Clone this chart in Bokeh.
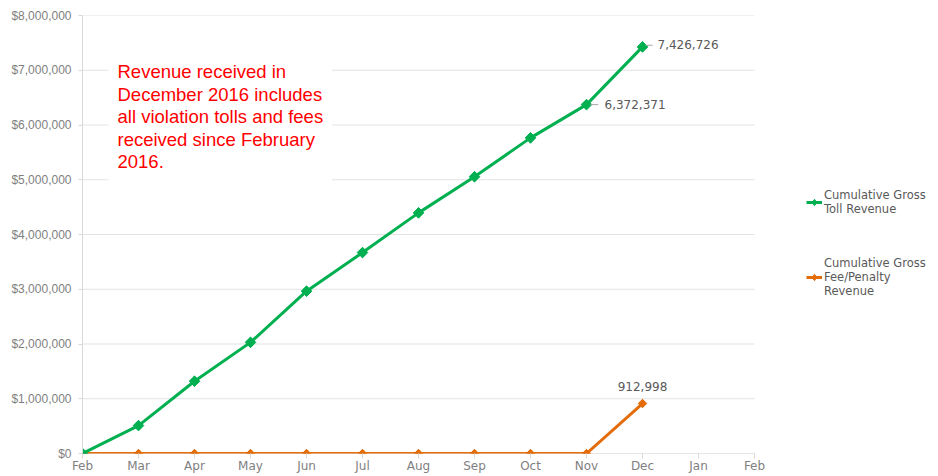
import math
from bokeh.plotting import figure
from bokeh.models import (Range1d, FixedTicker, NumeralTickFormatter, Legend,
                          LegendItem, Label, ColumnDataSource)
from bokeh.core.properties import value
from bokeh.embed import file_html
from bokeh.resources import INLINE

# ---- data ----
months = ["Feb", "Mar", "Apr", "May", "Jun", "Jul", "Aug", "Sep", "Oct",
          "Nov", "Dec", "Jan", "Feb"]
toll_revenue = [0, 510000, 1320000, 2030000, 2965000, 3670000, 4395000,
                5055000, 5765000, 6372371, 7426726]
fee_revenue = [0, 0, 0, 0, 0, 0, 0, 0, 0, 0, 912998]
y_ticks = [0, 1000000, 2000000, 3000000, 4000000, 5000000, 6000000,
           7000000, 8000000]
note = ("Revenue received in\nDecember 2016 includes\nall violation tolls and fees\n"
        "received since February\n2016.")

# ---- layout / style ----
W, H = 938, 476
LEFT, TOP, BOTTOM = 82, 15, 23
AXIS_W = 672                       # width of the month axis in pixels
GREEN = "#00b050"
ORANGE = "#e46c0a"
GRID = "#d9d9d9"
TXT = "#595959"
AX = "#7f7f7f"
FONT = "DejaVu Sans"

n_cat = len(months) - 1
x_end = n_cat * (W - LEFT) / AXIS_W   # frame runs to the right edge (legend lives there)

idx = list(range(len(toll_revenue)))
src_toll = ColumnDataSource(dict(x=idx, y=toll_revenue))
src_fee = ColumnDataSource(dict(x=idx, y=fee_revenue))

p = figure(width=W, height=H, output_backend="svg", toolbar_location=None,
           x_range=Range1d(0, x_end), y_range=Range1d(y_ticks[0], y_ticks[-1]),
           min_border_left=LEFT, min_border_right=0, min_border_top=TOP,
           min_border_bottom=BOTTOM)
p.outline_line_color = None
p.background_fill_color = "white"
p.border_fill_color = "white"

# axes
p.xaxis.ticker = FixedTicker(ticks=list(range(len(months))))
p.xaxis.major_label_overrides = {i: m for i, m in enumerate(months)}
p.xaxis.axis_line_color = None
p.xaxis.major_tick_line_color = GRID
p.xaxis.major_tick_in = 0
p.xaxis.major_tick_out = 5
p.xaxis.minor_tick_line_color = None
p.xaxis.major_label_standoff = 0
p.xaxis.major_label_text_font = FONT
p.xaxis.major_label_text_font_size = "12px"
p.xaxis.major_label_text_color = AX

p.yaxis.ticker = FixedTicker(ticks=y_ticks)
p.yaxis.formatter = NumeralTickFormatter(format="$0,0")
p.yaxis.axis_line_color = GRID
p.yaxis.major_tick_line_color = GRID
p.yaxis.major_tick_in = 0
p.yaxis.major_tick_out = 4
p.yaxis.minor_tick_line_color = None
p.yaxis.major_label_standoff = 7
p.yaxis.major_label_text_font = "Liberation Sans"
p.yaxis.major_label_text_font_size = "12px"
p.yaxis.major_label_text_color = AX

p.grid.grid_line_color = None
# horizontal gridlines and baseline, only across the month axis
p.segment(x0=[0] * len(y_ticks), x1=[n_cat] * len(y_ticks), y0=y_ticks, y1=y_ticks,
          line_color="#e3e3e3", line_width=1)
p.segment(x0=[0], x1=[n_cat], y0=[y_ticks[0]], y1=[y_ticks[0]],
          line_color=GRID, line_width=1)

# annotation box
note_label = Label(x=0.464, y=7330000, text=note, text_font="Liberation Sans",
                   text_font_size="18.5px", text_color="#ff0000", text_baseline="top",
                   text_line_height=1.07, background_fill_color="white",
                   background_fill_alpha=1.0, padding=9)
p.add_layout(note_label)

# series
r_fee_l = p.line("x", "y", source=src_fee, line_color=ORANGE, line_width=3)
leg_fee_m = p.scatter("x", "y", source=src_fee, marker="diamond", size=8,
                      fill_color=ORANGE, line_color=ORANGE)
r_fee_m = p.scatter("x", "y", source=src_fee, marker="square", size=6,
                    angle=math.pi / 4, fill_color=ORANGE, line_color=ORANGE)
r_toll_l = p.line("x", "y", source=src_toll, line_color=GREEN, line_width=3)
leg_toll_m = p.scatter("x", "y", source=src_toll, marker="diamond", size=10,
                       fill_color=GREEN, line_color=GREEN)
r_toll_m = p.scatter("x", "y", source=src_toll, marker="square", size=7.5,
                     angle=math.pi / 4, fill_color=GREEN, line_color=GREEN)

# data labels
n = len(toll_revenue)
lab_toll = ColumnDataSource(dict(
    x=[idx[n - 2], idx[n - 1]],
    y=[toll_revenue[n - 2], toll_revenue[n - 1]],
    t=["{:,}".format(toll_revenue[n - 2]), "{:,}".format(toll_revenue[n - 1])],
    dx=[18, 15],
    dy=[0, -2],
))
p.text("x", "y", text="t", source=lab_toll, x_offset="dx", y_offset="dy",
       text_font=value(FONT), text_font_size="12px", text_color=TXT,
       text_baseline="middle", text_align="left")
p.segment(x0=[idx[n - 2] + 0.07, idx[n - 1] + 0.05],
          y0=[toll_revenue[n - 2], toll_revenue[n - 1] + 30000],
          x1=[idx[n - 2] + 0.21, idx[n - 1] + 0.18],
          y1=[toll_revenue[n - 2], toll_revenue[n - 1] + 30000],
          line_color="#a6a6a6", line_width=1)
lab_fee = ColumnDataSource(dict(x=[idx[n - 1]], y=[fee_revenue[n - 1]],
                                t=["{:,}".format(fee_revenue[n - 1])]))
p.text("x", "y", text="t", source=lab_fee, y_offset=-17,
       text_font=value(FONT), text_font_size="12px", text_color=TXT,
       text_baseline="middle", text_align="center")

legend = Legend(items=[
    LegendItem(label="Cumulative Gross\nToll Revenue", renderers=[r_toll_l, leg_toll_m]),
    LegendItem(label="Cumulative Gross\nFee/Penalty\nRevenue", renderers=[r_fee_l, leg_fee_m]),
], location=(724, 155))
legend.background_fill_alpha = 0
legend.border_line_color = None
legend.label_text_font = FONT
legend.label_text_font_size = "11.5px"
legend.label_text_color = TXT
legend.label_text_line_height = 1.2
legend.glyph_width = 16
legend.label_standoff = 2
legend.spacing = 40
legend.padding = 0
legend.margin = 0
p.add_layout(legend, "center")

open("out.html", "w").write(file_html(p, INLINE))
